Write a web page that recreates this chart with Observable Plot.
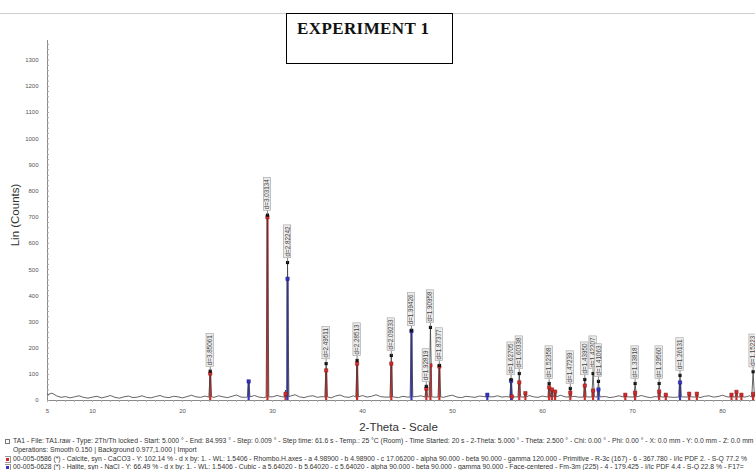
<!DOCTYPE html>
<html><head><meta charset="utf-8">
<script src="https://cdn.jsdelivr.net/npm/d3@7"></script>
<script src="https://cdn.jsdelivr.net/npm/@observablehq/plot@0.6"></script>
<style>
html,body{margin:0;padding:0;background:#fff;width:755px;height:470px;overflow:hidden;position:relative;font-family:"Liberation Sans",Arial,sans-serif;}
#chart{position:absolute;left:0;top:0;width:755px;height:440px;overflow:hidden;}
#chart svg{max-width:none !important;}
#topline{position:absolute;left:0;top:13px;width:755px;height:0;border-top:1px solid #cfcfcf;}
#title{position:absolute;left:286px;top:13px;width:167px;height:51px;border:1px solid #000;background:#fff;box-sizing:border-box;font-family:"Liberation Serif","Times New Roman",serif;font-weight:bold;font-size:17px;letter-spacing:0.4px;padding:5px 0 0 10px;color:#111;}
#xlab{position:absolute;left:0;width:797px;text-align:center;top:421px;font-size:11.5px;color:#333;}
#ylab{position:absolute;left:15px;top:215px;transform:translate(-50%,-50%) rotate(-90deg);font-size:11.5px;color:#333;white-space:nowrap;}
.info{position:absolute;left:5px;width:750px;font-size:6.8px;color:#333;white-space:nowrap;overflow:hidden;line-height:8px;}
.ic{display:inline-block;width:5px;height:5px;margin-right:3px;vertical-align:-1px;box-sizing:border-box;}
#chart svg g[aria-label="x-axis tick label"] text, #chart svg g[aria-label="y-axis tick label"] text{fill:#555;}
</style></head><body>
<div id="chart"></div>
<div id="topline"></div>
<div id="title">EXPERIMENT 1</div>
<div id="xlab"></div>
<div id="ylab"></div>
<div id="info"></div>
<script>
// ---------- data ----------
const titleText = "EXPERIMENT 1";
const xTitle = "2-Theta - Scale";
const yTitle = "Lin (Counts)";
const xTicks = [5, 10, 20, 30, 40, 50, 60, 70, 80];
const yTicks = [0, 100, 200, 300, 400, 500, 600, 700, 800, 900, 1000, 1100, 1200, 1300];

// background scan, 5.0° to 85.0° every 0.5°
const scanStart = 5, scanStep = 0.5;
const backgroundCounts = [
 22,28,18,12,15,10,14,18,12,9, 13,16,10,14,19,12,9,14,17,11,
 13,18,12,10,15,19,13,11,16,14, 10,15,20,14,12,17,15,12,18,14,
 11,16,21,13,12,15,19,13,11,16, 14,19,15,12,17,22,14,11,16,18,
 12,15,13,10,17,21,14,12,18,15, 19,13,16,22,15,13,18,14,11,16,
 13,10,15,18,14,16,13,15,12,17, 20,13,11,16,14,12,17,15,11,14,
 18,13,15,12,14,11,16,19,14,12, 17,15,13,16,20,14,12,16,13,15,
 11,14,12,17,15,11,14,18,13,15, 12,16,19,14,11,15,13,17,14,12,
 16,13,15,19,14,11,16,18,13,15, 20,14,12,17,15,13,18,14,12,16,14
];

// measured peaks (pattern) with d-spacing labels
const peakTheta  = [23.08,27.35,29.44,31.45,31.67,35.96,39.40,43.20,45.44,47.09,47.55,48.54,53.87,56.51,57.42,58.10,60.74,61.05,61.40,63.09,64.70,65.62,66.22,69.20,70.29,72.96,73.70,75.28,76.30,77.15,81.00,81.55,82.10,83.40];
const peakCounts = [112,72,708,40,527,141,153,172,268,54,279,134,25,80,103,30,65,45,36,46,80,103,73,24,65,65,24,96,27,27,24,34,23,110];
const peakLabel  = ["d=3.85061","","d=3.03134","","d=2.82242","d=2.49511","d=2.28513","d=2.09233","d=1.99426","d=1.92819","d=1.90958","d=1.87377","","d=1.62705","d=1.60338","","d=1.52358","","","d=1.47239","d=1.43950","d=1.42207","d=1.41063","","d=1.33818","d=1.29560","","d=1.26131","","","","","","d=1.15223"];

// reference sticks
const calciteTheta  = [23.08,29.44,31.45,35.96,39.40,43.20,47.09,47.55,48.54,56.60,57.42,58.10,60.74,61.05,61.40,63.09,64.70,65.62,69.20,70.29,72.96,73.70,76.30,77.15,81.00,81.55,82.10,83.40];
const calciteCounts = [103,700,25,115,141,141,45,134,130,15,69,28,50,42,34,30,57,38,22,30,34,22,26,26,22,33,22,25];
const haliteTheta  = [27.35,31.67,45.44,53.87,56.51,66.22,75.28];
const haliteCounts = [73,465,265,22,75,42,69];

const infoLines = [
 "TA1 - File: TA1.raw - Type: 2Th/Th locked - Start: 5.000 ° - End: 84.993 ° - Step: 0.009 ° - Step time: 61.6 s - Temp.: 25 °C (Room) - Time Started: 20 s - 2-Theta: 5.000 ° - Theta: 2.500 ° - Chi: 0.00 ° - Phi: 0.00 ° - X: 0.0 mm - Y: 0.0 mm - Z: 0.0 mm",
 "Operations: Smooth 0.150 | Background 0.977,1.000 | Import",
 "00-005-0586 (*) - Calcite, syn - CaCO3 - Y: 102.14 % - d x by: 1. - WL: 1.5406 - Rhombo.H.axes - a 4.98900 - b 4.98900 - c 17.06200 - alpha 90.000 - beta 90.000 - gamma 120.000 - Primitive - R-3c (167) - 6 - 367.780 - I/Ic PDF 2. - S-Q 77.2 %",
 "00-005-0628 (*) - Halite, syn - NaCl - Y: 66.49 % - d x by: 1. - WL: 1.5406 - Cubic - a 5.64020 - b 5.64020 - c 5.64020 - alpha 90.000 - beta 90.000 - gamma 90.000 - Face-centered - Fm-3m (225) - 4 - 179.425 - I/Ic PDF 4.4 - S-Q 22.8 % - F17="
];

// ---------- build tables ----------
const RED = "#d02a2a", BLUE = "#3434c4";
const peaks = peakTheta.map((t, i) => ({t, c: peakCounts[i], label: peakLabel[i]}));
const labeled = peaks.filter(d => d.label);
const bg = backgroundCounts.map((c, i) => ({t: scanStart + i * scanStep, c}))
  .filter(d => !peaks.some(p => Math.abs(p.t - d.t) < 0.3));
const shoulders = [];
peaks.forEach(p => {
  shoulders.push({t: p.t - 0.15, c: 13}, {t: p.t, c: p.c}, {t: p.t + 0.15, c: 14});
});
const pattern = bg.concat(shoulders).sort((a, b) => a.t - b.t);
const calcite = calciteTheta.map((t, i) => ({t, c: calciteCounts[i]}));
const halite = haliteTheta.map((t, i) => ({t, c: haliteCounts[i]}));

const plot = Plot.plot({
  width: 775, height: 440,
  marginLeft: 47, marginRight: 8, marginTop: 40, marginBottom: 40,
  style: {fontFamily: "Liberation Sans, Arial, sans-serif", fontSize: "6px", background: "transparent", maxWidth: "none"},
  x: {domain: [5, 85], label: null},
  y: {domain: [0, 1375], label: null},
  marks: [
    Plot.ruleY([0], {stroke: "#8a8a8a", strokeWidth: 1}),
    Plot.ruleX([5], {y1: 0, y2: 1375, stroke: "#8a8a8a", strokeWidth: 1}),
    Plot.axisX({ticks: d3.range(5, 86, 1), tickSize: 2, text: null, label: null, stroke: "#aaa"}),
    Plot.axisX({ticks: xTicks, tickSize: 0, tickPadding: 8, label: null, tickFormat: d => String(d)}),
    Plot.axisY({ticks: d3.range(0, 1375, 20), tickSize: 2, dx: 2, text: null, label: null, stroke: "#aaa"}),
    Plot.axisY({ticks: yTicks, tickSize: 0, tickPadding: 9, label: null, tickFormat: d => String(d)}),
    Plot.ruleX(calcite, {x: "t", y1: 0, y2: "c", stroke: RED, strokeWidth: 2.2}),
    Plot.ruleX(halite, {x: "t", y1: 0, y2: "c", stroke: BLUE, strokeWidth: 2.2}),
    Plot.line(pattern, {x: "t", y: "c", stroke: "#3c3c3c", strokeWidth: 0.8}),
    Plot.dot(calcite, {x: "t", y: "c", symbol: "square", r: 1.9, fill: RED, stroke: "#901818", strokeWidth: 0.5}),
    Plot.dot(halite, {x: "t", y: "c", symbol: "square", r: 1.9, fill: BLUE, stroke: "#1a1a80", strokeWidth: 0.5}),
    Plot.dot(labeled, {x: "t", y: "c", symbol: "square", r: 1.8, fill: "#111"}),
    Plot.text(labeled, {x: "t", y: "c", text: "label", rotate: -90, textAnchor: "start", fontSize: 6.3, fill: "#444", className: "dlab"})
  ]
});
document.getElementById("chart").append(plot);
document.getElementById("title").textContent = titleText;
document.getElementById("xlab").textContent = xTitle;
document.getElementById("ylab").textContent = yTitle;

// boxes and leaders behind d-spacing labels
const NS = "http://www.w3.org/2000/svg";
plot.querySelectorAll("g.dlab text").forEach(t => {
  t.setAttribute("x", 6);
  const bb = t.getBBox();
  const tr = t.getAttribute("transform");
  const r = document.createElementNS(NS, "rect");
  r.setAttribute("transform", tr);
  r.setAttribute("x", bb.x - 1.2); r.setAttribute("y", bb.y - 0.2);
  r.setAttribute("width", bb.width + 2.4); r.setAttribute("height", bb.height + 0.4);
  r.setAttribute("fill", "#ececec"); r.setAttribute("stroke", "#a0a0a0"); r.setAttribute("stroke-width", 0.6);
  const l = document.createElementNS(NS, "line");
  l.setAttribute("transform", tr);
  l.setAttribute("x1", 0); l.setAttribute("x2", bb.x - 1.2);
  l.setAttribute("y1", 0); l.setAttribute("y2", 0);
  l.setAttribute("stroke", "#555"); l.setAttribute("stroke-width", 0.7);
  t.parentNode.insertBefore(l, t);
  t.parentNode.insertBefore(r, t);
});

// info lines
const info = document.getElementById("info");
const icons = [
  '<span class="ic" style="border:1px solid #777;background:#fff"></span>',
  '<span class="ic" style="background:transparent"></span>',
  '<span class="ic" style="background:' + RED + ';border:1px solid #fff;outline:1px solid #999"></span>',
  '<span class="ic" style="background:' + BLUE + ';border:1px solid #fff;outline:1px solid #999"></span>'
];
const tops = [437, 446, 455, 463];
infoLines.forEach((s, i) => {
  const d = document.createElement("div");
  d.className = "info";
  d.style.top = tops[i] + "px";
  d.innerHTML = icons[i];
  d.appendChild(document.createTextNode(s));
  document.body.appendChild(d);
});
</script>
</body></html>
